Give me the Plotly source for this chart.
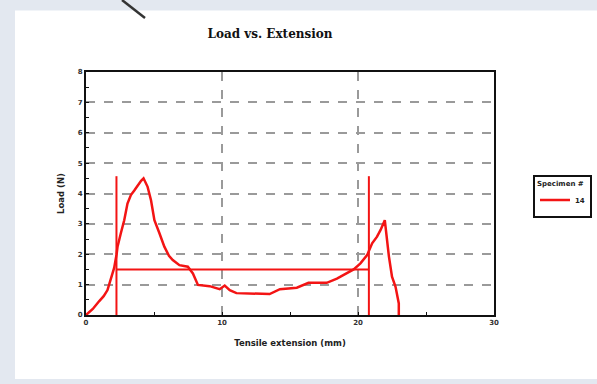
import plotly.graph_objects as go

# Data
ext_mm = [0, 0.5, 0.96, 1.3, 1.58, 1.82, 2.07, 2.25, 2.32, 2.56, 2.81, 3.05, 3.3, 3.55, 3.8,
          4.05, 4.23, 4.53, 4.78, 5.03, 5.4, 5.76, 6.1, 6.38, 6.87, 7.49, 7.86, 8.23, 9.09,
          9.83, 10.2, 10.57, 11.06, 11.8, 13.5, 14.26, 15.5, 16.36, 17.7, 18.45, 19.2, 19.68,
          20.18, 20.67, 21.04, 21.4, 21.66, 21.97, 22.27, 22.5, 22.76, 23.0, 23.0]
load_n = [0, 0.2, 0.45, 0.62, 0.82, 1.2, 1.55, 2.0, 2.25, 2.69, 3.12, 3.67, 3.95, 4.1, 4.28,
          4.42, 4.5, 4.22, 3.78, 3.12, 2.69, 2.25, 1.95, 1.81, 1.64, 1.59, 1.37, 0.99, 0.95,
          0.85, 0.97, 0.82, 0.72, 0.71, 0.69, 0.85, 0.9, 1.06, 1.06, 1.2, 1.37, 1.5,
          1.7, 1.97, 2.36, 2.58, 2.8, 3.12, 1.94, 1.26, 0.93, 0.38, 0]

marker_left_x = [2.24, 2.24]
marker_right_x = [20.8, 20.8]
marker_y = [0, 4.57]
level_x = [2.24, 20.8]
level_y = [1.5, 1.5]

x_ticks = [0, 10, 20, 30]
y_ticks = [0, 1, 2, 3, 4, 5, 6, 7, 8]

RED = "#f31414"
fig = go.Figure()
fig.add_trace(go.Scatter(x=ext_mm, y=load_n, mode="lines", name="<b>14</b>",
                         line=dict(color=RED, width=2.5)))
for xs, ys in [(marker_left_x, marker_y), (marker_right_x, marker_y), (level_x, level_y)]:
    fig.add_trace(go.Scatter(x=xs, y=ys, mode="lines", showlegend=False,
                             line=dict(color=RED, width=2), hoverinfo="skip"))

tickfont = dict(family="DejaVu Sans", size=7, color="#333")
fig.update_layout(
    width=597, height=384,
    margin=dict(l=86, r=103, t=72, b=69, autoexpand=False),
    paper_bgcolor="#e3e8f0",
    plot_bgcolor="white",
    title=dict(text="<b>Load vs. Extension</b>", x=270/597, xanchor="center",
               y=1 - 34/384, yanchor="middle",
               font=dict(family="DejaVu Serif", size=12, color="#111")),
    showlegend=True,
    legend=dict(x=(533 - 86) / 408, xanchor="left", y=(315 - 196) / 243, yanchor="middle",
                bgcolor="white", bordercolor="#111", borderwidth=2,
                font=dict(family="DejaVu Sans", size=7, color="#222"),
                title=dict(text="<b>Specimen #</b>", font=dict(size=7)),
                tracegroupgap=0, itemwidth=30),
    shapes=[dict(type="rect", xref="paper", yref="paper",
                 x0=-(86 - 15) / 408, x1=(620 - 86) / 408,
                 y0=-(379 - 315) / 243, y1=(315 - 10.5) / 243,
                 fillcolor="white", line=dict(width=0), layer="below"),
            dict(type="line", xref="paper", yref="paper",
                 x0=(122 - 86) / 408, y0=(315 - 0) / 243,
                 x1=(145 - 86) / 408, y1=(315 - 18) / 243,
                 line=dict(color="#333", width=2.5))],
    xaxis=dict(range=[0, 30], tickvals=x_ticks, ticktext=[f"<b>{v}</b>" for v in x_ticks],
               showline=True, linecolor="#111", linewidth=2,
               mirror=True, ticks="inside", ticklen=3, tickcolor="#111",
               minor=dict(dtick=5, ticks="inside", ticklen=3, tickcolor="#111"),
               showgrid=True, gridcolor="#9a9a9a", griddash="dash", gridwidth=1.5,
               zeroline=False, tickfont=tickfont,
               title=dict(text="<b>Tensile extension (mm)</b>", standoff=14,
                          font=dict(family="DejaVu Sans", size=8.5, color="#222"))),
    yaxis=dict(range=[0, 8], tickvals=y_ticks, ticktext=[f"<b>{v}</b>" for v in y_ticks],
               showline=True, linecolor="#111", linewidth=2,
               mirror=True, ticks="inside", ticklen=3, tickcolor="#111",
               minor=dict(dtick=0.5, ticks="inside", ticklen=3, tickcolor="#111"),
               showgrid=True, gridcolor="#9a9a9a", griddash="dash", gridwidth=1.5,
               zeroline=False, tickfont=tickfont,
               title=dict(text="<b>Load (N)</b>", standoff=12,
                          font=dict(family="DejaVu Sans", size=8.5, color="#222"))),
)
fig.write_html("out.html")
